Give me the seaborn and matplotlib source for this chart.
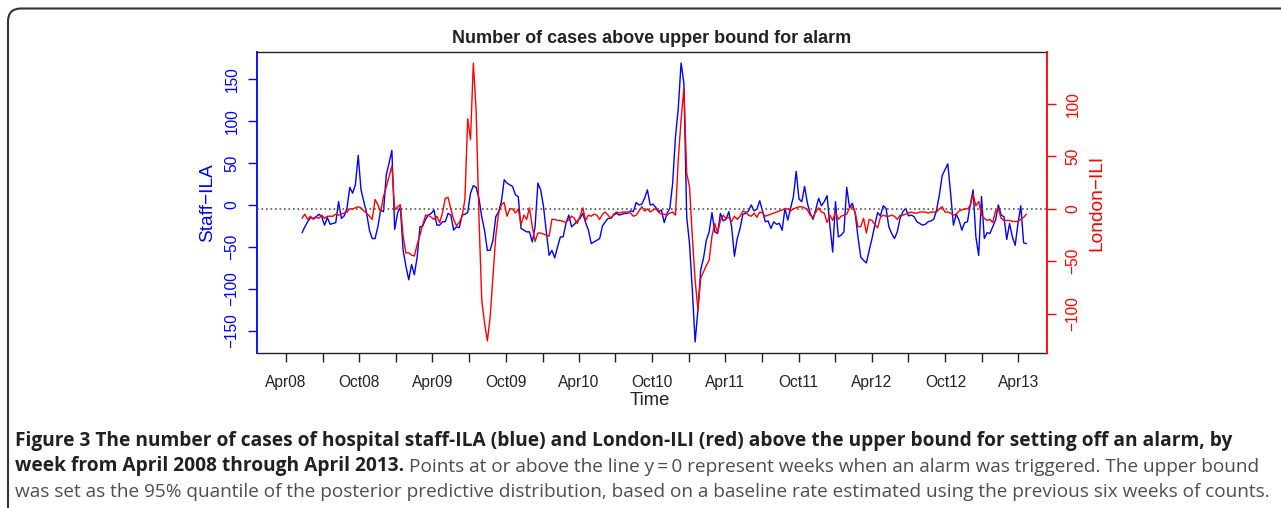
"""
Staff-ILA vs London-ILI cases above the alarm upper bound, weekly 2008-2013
"""
import matplotlib
matplotlib.use("Agg")
import numpy as np
import pandas as pd
import seaborn as sns
import matplotlib.pyplot as plt
import matplotlib.dates as mdates
from matplotlib.patches import FancyBboxPatch
from matplotlib.transforms import IdentityTransform

FIRST_WEEK = "2008-05-11"

# cases above upper bound
STAFF_ILA = [
    -33, -26, -20, -15, -16, -14, -11, -14, -24, -15,
    -23, -22, -21, 4, -16, -13, -4, 21, 14, 24,
    59, 18, 4, -10, -30, -40, -40, -26, -6, -8,
    36, 50, 65, -29, -10, -2, -54, -73, -89, -71,
    -83, -62, -26, -25, -17, -12, -10, -6, -24, -24,
    -20, -20, -10, -12, -30, -26, -27, -12, -11, -9,
    14, 23, 21, 8, -14, -30, -54, -54, -42, -14,
    -8, 4, 30, 26, 24, 22, 12, 10, -28, -30,
    -32, -32, -44, -26, 26, 18, -2, -32, -60, -54,
    -63, -50, -38, -38, -22, -12, -26, -23, -19, -16,
    -10,
    -21, -30, -46, -44, -42, -40, -25, -20, -16, -16,
    -12, -10, -12, -11, -10, -10, -7, -8, 3, 0,
    1, 8, 18, 0, 1, -3, -8, -6, -21, -10,
    -4, 26, 81, 115, 169, 145, -14, -46, -101, -163,
    -125, -77, -63, -42, -32, -9, -32, -34, -10, -19,
    -17, -8, -26, -61,
    -40, -28, -11, -10, -7, 0, -7, -5, 5, -7,
    -20, -19, -28, -20, -23, -22, -30, -4, -18, -4,
    10, 40, 7, 4, 22, 2, -10, -17, -5, 8,
    -1, 4, 11, -24, -56, 4, -38, -36, -32, 21,
    -3, 2, -10, -38, -62, -66, -69, -54, -40,
    -24, -9, -13, -1, -4, -26, -34, -40, -32, -16,
    -8, -4, -13, -12, -14, -20, -22, -24, -23, -20,
    -19, -17, -6, 12, 35, 42, 49, 14, -24, -11,
    -18, -30, -21, -20, 0, 18, -38, -60, 10, -40,
    -33, -34, -26, -18, 0, -12, -14, -41, -22, -38,
    -48, -22, -1, -45, -46,
]

LONDON_ILI = [
    -9, -5, -10, -7, -10, -8, -9, -6, -9, -7,
    -7, -7, -5, -6, -5, -4, -3, 0, 0, 1,
    2, 1, -2, -4, -7, -10, 9, 4, -3, 12,
    21, 31, 41, -1, 2, 4, -26, -42, -42, -44,
    -45, -34, -25, -15, -6, -6, -8, -10, -7, -13,
    -4, 10, 11, 0, -10, -16, -13, -7, 9, 86,
    66, 139, 94, -7, -87, -109, -126, -103, -64, -26,
    -4, 4, 6, -7, 0, 0, -4, 0, -15, -6,
    -10, 1, -17, -31, -23, -23, -24, -25, -26, -10,
    -10, -11, -11, -12, -13, -10, -7, -9, -14, -7,
    1,
    -11, -6, -7, -5, -6, -10, -5, -3, -6, -9,
    -5, -3, -4, -3, -3, -3, -4, -7, -6, -2,
    2, -2, 0, -3, -1, 0, -3, -5, -5, -6,
    -4, -3, -6, 47, 85, 115, 34, 21, -26, -68,
    -96, -66, -60, -54, -49, -26, -14, -23, -11, -6,
    -9, -8, -12, -7,
    -10, -7, -2, -3, -6, -7, -4, -8, -3, -4,
    -7, -6, -5, -4, -3, -2, -1, 0, 0, -2,
    0, 1, 2, 2, 1, -1, -6, -8, -3, 1,
    -3, -4, -13, -6, -11, -3, -10, -7, -6, -5,
    1, 2, -3, -17, -17, -9, -23, -10, -11,
    -15, -18, -8, -6, -7, -7, -6, -7, -10, -6,
    -6, -5, -4, -3, -4, -4, -3, -3, -3, -4,
    -3, -3, -3, 0, 2, -3, -3, -4, -6, -5,
    -2, -1, 0, 0, 3, 14, 3, 7, -6, -9,
    -11, -10, -13, -2, 0, -9, -11, -11, -11, -12,
    -12, -12, -10, -8, -5,
]

STAFF_TICKS = [-150, -100, -50, 0, 50, 100, 150]
LONDON_TICKS = [-100, -50, 0, 50, 100]

TITLE = "Number of cases above upper bound for alarm"
CAP_BOLD_1 = ("Figure 3 The number of cases of hospital staff-ILA (blue) and London-ILI (red) "
              "above the upper bound for setting off an alarm, by")
CAP_BOLD_2 = "week from April 2008 through April 2013."
CAP_REG_2 = ("Points at or above the line y\u2009=\u20090 represent weeks when an alarm was "
             "triggered. The upper bound")
CAP_REG_3 = ("was set as the 95% quantile of the posterior predictive distribution, based on a "
             "baseline rate estimated using the previous six weeks of counts.")

sns.set_style("white")
plt.rcParams["font.family"] = ["Liberation Sans", "DejaVu Sans"]

weeks = pd.date_range(FIRST_WEEK, periods=len(STAFF_ILA), freq="7D")
df = pd.DataFrame({"week": weeks, "staff": STAFF_ILA, "london": LONDON_ILI})

W, H = 1281, 508
fig = plt.figure(figsize=(W / 100, H / 100), dpi=100)
ax = fig.add_axes([257 / W, 1 - 353 / H, 790 / W, 301 / H])
ax2 = ax.twinx()

sns.lineplot(data=df, x="week", y="staff", ax=ax, color="#0000ff", lw=1.0)
sns.lineplot(data=df, x="week", y="london", ax=ax2, color="#ff0000", lw=1.0)
ax2.axhline(0, color="#555555", lw=1.2, ls=(0, (1, 1.7)), zorder=0)

ax.set_xlim(pd.Timestamp("2008-01-19 16:00"), pd.Timestamp("2013-06-11 08:00"))
ax.set_ylim(-176.2, 182.1)
ax2.set_ylim(-137.5, 149.7)

# ticks every quarter, labels only on Apr / Oct
ax.xaxis.set_major_locator(mdates.MonthLocator(bymonth=[1, 4, 7, 10]))
ax.xaxis.set_major_formatter(plt.FuncFormatter(
    lambda v, pos: mdates.num2date(v).strftime("%b%y")
    if mdates.num2date(v).month in (4, 10) else ""))
ax.set_yticks(STAFF_TICKS)
ax2.set_yticks(LONDON_TICKS)

ax.tick_params(axis="x", direction="out", length=6.5, width=1, pad=9,
               labelsize=11.2, color="#222222", labelcolor="#222222", bottom=True)
ax.tick_params(axis="y", direction="out", length=6.5, width=1, pad=6,
               labelsize=11.2, color="#0000ff", labelcolor="#0000ff",
               labelrotation=90, left=True)
ax2.tick_params(axis="y", direction="out", length=6.5, width=1, pad=7,
                labelsize=11.2, color="#ff0000", labelcolor="#ff0000",
                labelrotation=90, right=True)
for lab in ax.get_yticklabels() + ax2.get_yticklabels():
    lab.set_va("center")

for side in ["top", "bottom"]:
    ax.spines[side].set_color("#222222")
    ax.spines[side].set_linewidth(1.0)
    ax2.spines[side].set_visible(False)
ax.spines["left"].set_color("#0000ff")
ax.spines["left"].set_linewidth(1.3)
ax.spines["right"].set_visible(False)
ax2.spines["left"].set_visible(False)
ax2.spines["right"].set_color("#ff0000")
ax2.spines["right"].set_linewidth(1.3)

ax.set_title(TITLE, fontsize=13, fontweight="bold", color="#222222", pad=6.5)
ax.set_xlabel("Time", fontsize=13.3, color="#222222")
ax.xaxis.set_label_coords(0.497, -0.128)
ax.set_ylabel("Staff\u2212ILA", fontsize=13.8, color="#0000ff", va="center")
ax.yaxis.set_label_coords(-0.063, 0.5)
ax2.set_ylabel("London\u2212ILI", fontsize=13.8, color="#ff0000", va="center")
ax2.yaxis.set_label_coords(1.063, 0.5)

# outer rounded frame, open at right and bottom
frame = FancyBboxPatch((8, -40), 1400, H - 8.5 + 40, boxstyle="round,pad=0,rounding_size=13",
                       transform=IdentityTransform(), fill=False, ec="#333333", lw=1.5,
                       clip_on=False)
fig.patches.append(frame)

# caption, sized to the width it has in the original
renderer = fig.canvas.get_renderer()
x0 = 15 / W
cap_font = ["Open Sans", "DejaVu Sans"]
t1 = fig.text(x0, 1 - 446 / H, CAP_BOLD_1, fontsize=12, fontweight="bold",
              color="#231f20", family=cap_font)
bold_size = 12 * 1217 / t1.get_window_extent(renderer).width
t1.set_fontsize(bold_size)
t3 = fig.text(x0, 1 - 497 / H, CAP_REG_3, fontsize=12, color="#4d4d4d", family=cap_font)
reg_size = 12 * 1250 / t3.get_window_extent(renderer).width
t3.set_fontsize(reg_size)
t2 = fig.text(x0, 1 - 471.5 / H, CAP_BOLD_2, fontsize=bold_size, fontweight="bold",
              color="#231f20", family=cap_font)
x_end = t2.get_window_extent(renderer).x1
fig.text((x_end + 5) / W, 1 - 471.5 / H, CAP_REG_2, fontsize=reg_size,
         color="#4d4d4d", family=cap_font)

fig.savefig("out.png", dpi=100)
